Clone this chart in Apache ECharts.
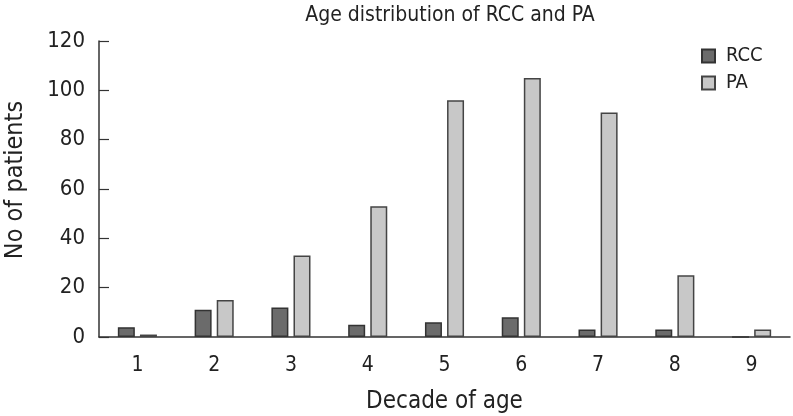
<!DOCTYPE html>
<html>
<head>
<meta charset="utf-8">
<script src="https://cdn.jsdelivr.net/npm/echarts@6/dist/echarts.min.js"></script>
<style>
  html, body { margin: 0; padding: 0; background: #fff; }
  #chart { width: 793px; height: 416px; }
</style>
</head>
<body>
<div id="chart"></div>
<script>
const decades = ["1", "2", "3", "4", "5", "6", "7", "8", "9"];
const rcc = [4, 11, 12, 5, 6, 8, 3, 3, 0];
const pa = [1, 15, 33, 53, 96, 105, 91, 25, 3];

const font = "'DejaVu Sans Condensed', 'Liberation Sans Narrow', sans-serif";
const chart = echarts.init(document.getElementById("chart"));

chart.setOption({
  backgroundColor: "#fff",
  animation: false,
  title: {
    text: "Age distribution of RCC and PA",
    left: 445,
    top: 0,
    textAlign: "center",
    textStyle: { fontFamily: font, fontSize: 21, fontWeight: "normal", color: "#222" }
  },
  legend: {
    orient: "vertical",
    left: 696,
    top: 41,
    icon: "rect",
    itemWidth: 13,
    itemHeight: 13,
    itemGap: 7,
    textStyle: { fontFamily: font, fontSize: 20, color: "#222", padding: [0, 0, 0, 6] },
    data: ["RCC", "PA"]
  },
  grid: { left: 99, right: 3, top: 41, bottom: 79, containLabel: false, outerBoundsMode: "none" },
  xAxis: {
    type: "category",
    data: decades,
    name: "Decade of age",
    nameLocation: "middle",
    nameGap: 53,
    nameTextStyle: { fontFamily: font, fontSize: 24, color: "#222" },
    axisLine: { lineStyle: { color: "#333", width: 1.5 } },
    axisTick: { show: false },
    axisLabel: { fontFamily: font, fontSize: 21, color: "#222", margin: 18 }
  },
  yAxis: {
    type: "value",
    min: 0,
    max: 120,
    interval: 20,
    name: "No of patients",
    nameLocation: "middle",
    nameGap: 71,
    nameTextStyle: { fontFamily: font, fontSize: 25, color: "#222", padding: [0, 0, 0, 18] },
    axisLine: { show: true, lineStyle: { color: "#333", width: 1.5 } },
    axisTick: { show: true, inside: true, length: 10, lineStyle: { color: "#333", width: 1.2 } },
    axisLabel: { fontFamily: font, fontSize: 22, color: "#222", margin: 14 },
    splitLine: { show: false }
  },
  series: [
    {
      name: "RCC",
      type: "bar",
      data: rcc,
      barWidth: 17,
      barGap: "30%",
      itemStyle: { color: "#6b6b6b", borderColor: "#333", borderWidth: 1.5 }
    },
    {
      name: "PA",
      type: "bar",
      data: pa,
      barWidth: 17,
      itemStyle: { color: "#c8c8c8", borderColor: "#444", borderWidth: 1.5 }
    }
  ]
});
</script>
</body>
</html>
